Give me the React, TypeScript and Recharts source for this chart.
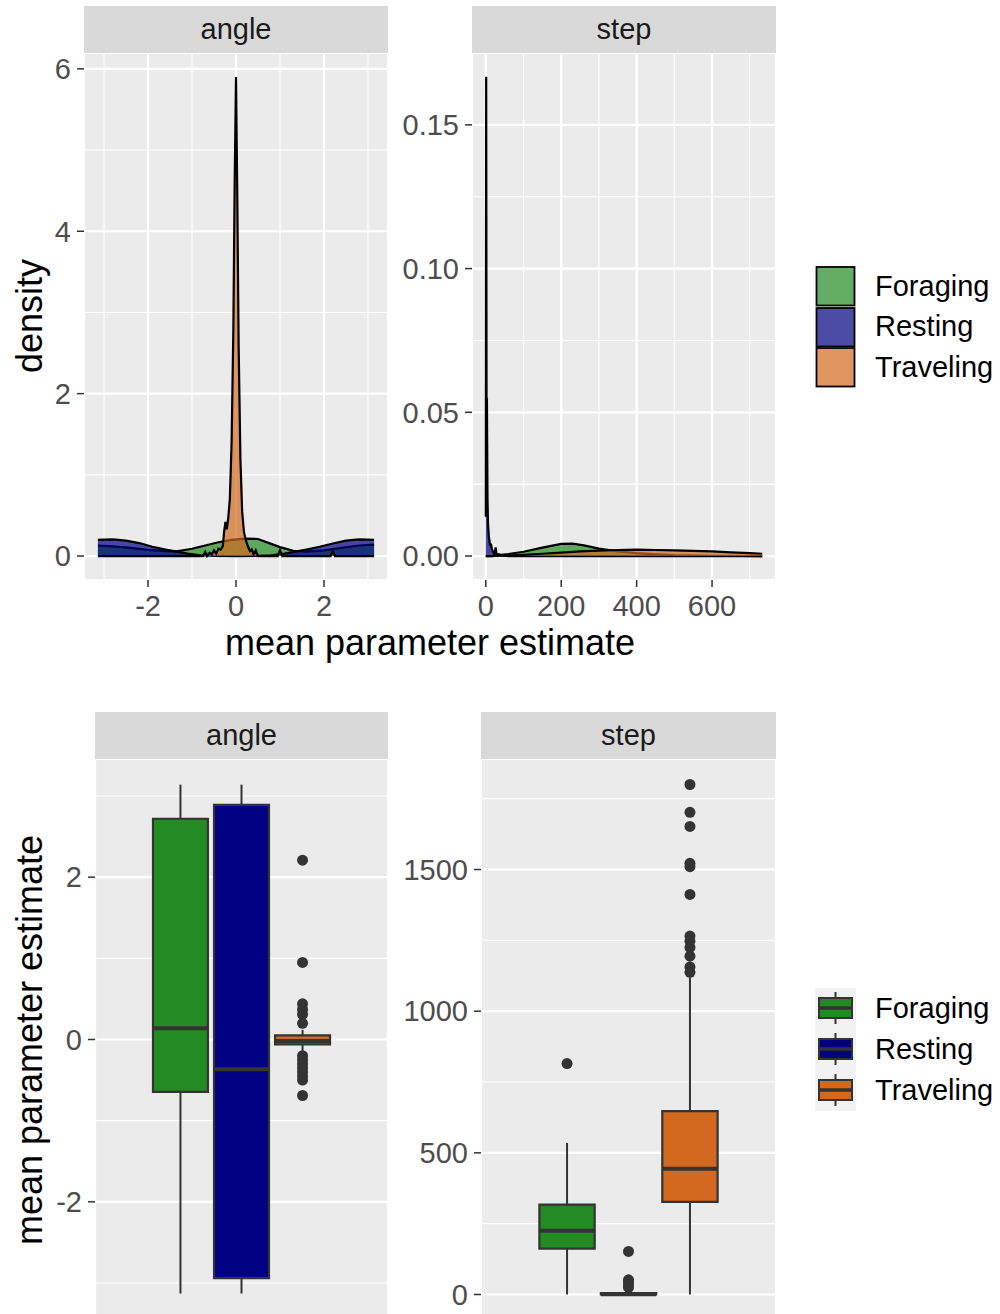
import React from "react";
import {
  Area,
  CartesianGrid,
  ComposedChart,
  ReferenceArea,
  ReferenceLine,
  Scatter,
  XAxis,
  YAxis,
} from "recharts";

const FONT = '"Liberation Sans", Arial, Helvetica, sans-serif';
const STATES = ["Foraging", "Resting", "Traveling"];
const STATE_COLORS = ["#228B22", "#000080", "#D2691E"];

// density of mean angle estimate, [x, density]
const angleForaging = [
  [-3.14, 0.13], [-2.8, 0.12], [-2.4, 0.1], [-2.0, 0.075], [-1.6, 0.06], [-1.35, 0.058],
  [-1.0, 0.09], [-0.7, 0.13], [-0.4, 0.17], [-0.1, 0.2], [0.2, 0.215], [0.5, 0.21],
  [0.8, 0.15], [1.0, 0.11], [1.3, 0.065], [1.6, 0.055], [2.0, 0.07], [2.4, 0.1],
  [2.8, 0.13], [3.14, 0.14],
];
const angleResting = [
  [-3.14, 0.2], [-2.8, 0.205], [-2.5, 0.19], [-2.2, 0.16], [-1.9, 0.115], [-1.6, 0.08],
  [-1.35, 0.055], [-1.1, 0.03], [-0.8, 0.01], [-0.5, 0.002], [0, 0], [0.5, 0.002],
  [0.8, 0.01], [1.1, 0.03], [1.35, 0.055], [1.6, 0.08], [1.9, 0.115], [2.2, 0.155],
  [2.5, 0.19], [2.8, 0.205], [3.14, 0.2],
];
const angleTraveling = [
  [-3.14, 0], [-0.75, 0], [-0.7, 0.05], [-0.66, 0], [-0.6, 0.04], [-0.55, 0.02],
  [-0.5, 0.07], [-0.45, 0.03], [-0.4, 0.09], [-0.35, 0.08], [-0.3, 0.12], [-0.27, 0.3],
  [-0.24, 0.42], [-0.21, 0.33], [-0.18, 0.45], [-0.14, 0.7], [-0.1, 1.4], [-0.06, 2.8],
  [-0.03, 4.6], [0, 5.9], [0.03, 4.4], [0.06, 2.6], [0.1, 1.2], [0.14, 0.55],
  [0.18, 0.3], [0.22, 0.2], [0.27, 0.12], [0.32, 0.06], [0.36, 0.08], [0.4, 0.02],
  [0.45, 0.07], [0.5, 0], [0.95, 0], [1.0, 0.07], [1.05, 0], [2.15, 0], [2.2, 0.06],
  [2.25, 0], [3.14, 0],
];

// density of mean step estimate, [x, density]
const stepForaging = [
  [0, 0], [20, 0], [24, 0.001], [26, 0.003], [28, 0.0008], [40, 0.0004], [60, 0.0007],
  [100, 0.0015], [150, 0.0029], [200, 0.0042], [230, 0.0043], [260, 0.0037],
  [300, 0.0026], [350, 0.0016], [400, 0.001], [450, 0.0006], [500, 0.0003],
  [600, 0.0001], [733, 0],
];
const stepResting = [
  [0, 0.0137], [0.5, 0.09], [1, 0.1667], [1.5, 0.11], [2, 0.05], [2.5, 0.042], [3, 0.055],
  [3.6, 0.04], [4.5, 0.02], [6, 0.011], [8, 0.007], [11, 0.004], [14, 0.004],
  [16, 0.0025], [20, 0.0012], [30, 0.0004], [45, 0.0001], [60, 0], [733, 0],
];
const stepTraveling = [
  [0, 0], [50, 0.0001], [100, 0.0004], [150, 0.0008], [200, 0.0012], [250, 0.0016],
  [300, 0.0019], [350, 0.0021], [400, 0.0022], [450, 0.0021], [500, 0.002],
  [550, 0.0018], [600, 0.0016], [650, 0.0013], [700, 0.001], [733, 0.0008],
];

// boxplot stats per state: [lower whisker, q1, median, q3, upper whisker]
const angleBoxes = [
  [-3.13, -0.645, 0.14, 2.72, 3.14],
  [-3.13, -2.94, -0.366, 2.89, 3.14],
  [-0.16, -0.06, -0.02, 0.05, 0.12],
];
const angleOutliers = [
  [],
  [],
  [2.21, 0.95, 0.44, 0.37, 0.31, 0.2, -0.2, -0.25, -0.3, -0.35, -0.4, -0.45, -0.5, -0.69],
];
const stepBoxes = [
  [0, 162, 225, 317, 535],
  [0, 0, 1, 5, 12],
  [0, 327, 444, 647, 1119],
];
const stepOutliers = [
  [815],
  [25, 35, 45, 52, 152],
  [1800, 1702, 1652, 1522, 1510, 1412, 1265, 1247, 1225, 1194, 1156, 1137],
];

const pts = (arr: number[][]) => arr.map(([x, y]) => ({ x, y }));

const tickStyle = { fill: "#4D4D4D", fontSize: 29, fontFamily: FONT };
const tickLine = { stroke: "#333333", strokeWidth: 1.5 };

function Strip({ left, top, width, label }: { left: number; top: number; width: number; label: string }) {
  return (
    <div
      style={{
        position: "absolute",
        left,
        top,
        width,
        height: 47,
        background: "#D9D9D9",
        color: "#1A1A1A",
        fontSize: 29,
        fontFamily: FONT,
        display: "flex",
        alignItems: "center",
        justifyContent: "center",
      }}
    >
      {label}
    </div>
  );
}

type PanelProps = {
  left: number;
  top: number;
  width: number;
  height: number;
  axisWidth: number;
  xDomain: number[];
  xTicks: number[];
  xMinor: number[];
  yDomain: number[];
  yTicks: number[];
  yMinor: number[];
  yFmt?: (v: number) => string;
  noXLabels?: boolean;
  children: React.ReactNode;
};

function Panel(p: PanelProps) {
  return (
    <div style={{ position: "absolute", left: p.left - p.axisWidth, top: p.top }}>
      <ComposedChart
        width={p.axisWidth + p.width}
        height={p.height + 50}
        margin={{ top: 0, right: 0, bottom: 0, left: 0 }}
      >
        <CartesianGrid fill="#EBEBEB" stroke="#FFFFFF" strokeWidth={2.2} />
        <CartesianGrid
          stroke="#FFFFFF"
          strokeWidth={1.1}
          horizontalValues={p.yMinor}
          verticalValues={p.xMinor}
          vertical={p.xMinor.length > 0}
        />
        <XAxis
          type="number"
          dataKey="x"
          domain={p.xDomain}
          ticks={p.xTicks}
          allowDataOverflow
          interval={0}
          axisLine={false}
          tickLine={p.noXLabels ? false : tickLine}
          tickSize={7}
          tickMargin={8}
          tick={p.noXLabels ? false : tickStyle}
          height={50}
        />
        <YAxis
          type="number"
          domain={p.yDomain}
          ticks={p.yTicks}
          allowDataOverflow
          interval={0}
          axisLine={false}
          tickLine={tickLine}
          tickSize={7}
          tickMargin={6}
          tick={tickStyle}
          tickFormatter={p.yFmt}
          width={p.axisWidth}
        />
        {p.children}
      </ComposedChart>
    </div>
  );
}

function densityAreas(series: number[][][]) {
  return series.map((s, i) => (
    <Area
      key={STATES[i]}
      data={pts(s)}
      dataKey="y"
      type="linear"
      baseValue={0}
      fill={STATE_COLORS[i]}
      fillOpacity={0.7}
      stroke="#000000"
      strokeWidth={2.2}
      dot={false}
      activeDot={false}
      isAnimationActive={false}
    />
  ));
}

const SLOT = 0.25;
const HALF = 0.1125;

function boxMarks(boxes: number[][], outliers: number[][]) {
  const out: React.ReactNode[] = [];
  boxes.forEach(([lo, q1, med, q3, hi], i) => {
    const c = 1 + (i - 1) * SLOT;
    out.push(
      <ReferenceLine key={`wu${i}`} segment={[{ x: c, y: q3 }, { x: c, y: hi }]} stroke="#333333" strokeWidth={2} />,
      <ReferenceLine key={`wl${i}`} segment={[{ x: c, y: lo }, { x: c, y: q1 }]} stroke="#333333" strokeWidth={2} />,
      <ReferenceArea
        key={`b${i}`}
        x1={c - HALF}
        x2={c + HALF}
        y1={q1}
        y2={q3}
        fill={STATE_COLORS[i]}
        fillOpacity={1}
        stroke="#333333"
        strokeWidth={2.2}
        ifOverflow="visible"
      />,
      <ReferenceLine key={`m${i}`} segment={[{ x: c - HALF, y: med }, { x: c + HALF, y: med }]} stroke="#333333" strokeWidth={4} />
    );
  });
  const dots = outliers.flatMap((vals, i) => vals.map((y) => ({ x: 1 + (i - 1) * SLOT, y })));
  out.push(
    <Scatter
      key="outliers"
      data={dots}
      dataKey="y"
      isAnimationActive={false}
      shape={(s: any) => <circle cx={s.cx} cy={s.cy} r={5.5} fill="#333333" />}
    />
  );
  return out;
}

function DensityLegend({ top }: { top: number }) {
  return (
    <div style={{ position: "absolute", left: 815, top }}>
      {STATES.map((s, i) => (
        <div key={s} style={{ display: "flex", alignItems: "center", height: 40.5 }}>
          <svg width={42} height={40.5}>
            <rect x={1.5} y={1} width={38} height={38.5} fill="#FFFFFF" />
            <rect x={1.5} y={1} width={38} height={38.5} fill={STATE_COLORS[i]} fillOpacity={0.7} stroke="#000000" strokeWidth={1.8} />
          </svg>
          <span style={{ marginLeft: 18, fontSize: 29, fontFamily: FONT, color: "#000000" }}>{s}</span>
        </div>
      ))}
    </div>
  );
}

function BoxLegend({ top }: { top: number }) {
  return (
    <div style={{ position: "absolute", left: 815, top }}>
      {STATES.map((s, i) => (
        <div key={s} style={{ display: "flex", alignItems: "center", height: 41 }}>
          <svg width={41} height={41} style={{ background: "#F2F2F2", display: "block" }}>
            <line x1={20.5} x2={20.5} y1={4} y2={36} stroke="#333333" strokeWidth={2} />
            <rect x={4} y={10} width={33} height={20} fill={STATE_COLORS[i]} stroke="#333333" strokeWidth={2} />
            <line x1={4} x2={37} y1={20} y2={20} stroke="#333333" strokeWidth={3.5} />
          </svg>
          <span style={{ marginLeft: 19, fontSize: 29, fontFamily: FONT, color: "#000000" }}>{s}</span>
        </div>
      ))}
    </div>
  );
}

function Title({ x, y, text, rotate }: { x: number; y: number; text: string; rotate?: boolean }) {
  return (
    <div
      style={{
        position: "absolute",
        left: x,
        top: y,
        transform: `translate(-50%, -50%)${rotate ? " rotate(-90deg)" : ""}`,
        whiteSpace: "nowrap",
        fontSize: 36,
        lineHeight: 1,
        fontFamily: FONT,
        color: "#000000",
      }}
    >
      {text}
    </div>
  );
}

export default function App() {
  return (
    <div
      style={{
        position: "absolute",
        left: 0,
        top: 0,
        width: 1000,
        height: 1314,
        overflow: "hidden",
        background: "#FFFFFF",
      }}
    >
      {/* density plots */}
      <Strip left={84} top={6} width={304} label="angle" />
      <Strip left={472} top={6} width={304} label="step" />
      <Panel
        left={84}
        top={53}
        width={304}
        height={527}
        axisWidth={84}
        xDomain={[-3.456, 3.456]}
        xTicks={[-2, 0, 2]}
        xMinor={[-3, -1, 1, 3]}
        yDomain={[-0.295, 6.195]}
        yTicks={[0, 2, 4, 6]}
        yMinor={[1, 3, 5]}
      >
        {densityAreas([angleForaging, angleResting, angleTraveling])}
      </Panel>
      <Panel
        left={472}
        top={53}
        width={304}
        height={527}
        axisWidth={80}
        xDomain={[-36.6, 769.6]}
        xTicks={[0, 200, 400, 600]}
        xMinor={[100, 300, 500, 700]}
        yDomain={[-0.00834, 0.175]}
        yTicks={[0, 0.05, 0.1, 0.15]}
        yMinor={[0.025, 0.075, 0.125]}
        yFmt={(v) => v.toFixed(2)}
      >
        {densityAreas([stepForaging, stepResting, stepTraveling])}
      </Panel>
      <Title x={430} y={643} text="mean parameter estimate" />
      <Title x={30} y={316} text="density" rotate />
      <DensityLegend top={266} />

      {/* box plots */}
      <Strip left={95} top={712} width={293} label="angle" />
      <Strip left={481} top={712} width={295} label="step" />
      <Panel
        left={95}
        top={759}
        width={293}
        height={561}
        axisWidth={95}
        xDomain={[0.4, 1.6]}
        xTicks={[1]}
        xMinor={[]}
        yDomain={[-3.456, 3.456]}
        yTicks={[-2, 0, 2]}
        yMinor={[-3, -1, 1, 3]}
        noXLabels
      >
        {boxMarks(angleBoxes, angleOutliers)}
      </Panel>
      <Panel
        left={481}
        top={759}
        width={295}
        height={561}
        axisWidth={90}
        xDomain={[0.4, 1.6]}
        xTicks={[1]}
        xMinor={[]}
        yDomain={[-90, 1890]}
        yTicks={[0, 500, 1000, 1500]}
        yMinor={[250, 750, 1250, 1750]}
        noXLabels
      >
        {boxMarks(stepBoxes, stepOutliers)}
      </Panel>
      <Title x={30} y={1040} text="mean parameter estimate" rotate />
      <BoxLegend top={988} />
    </div>
  );
}
